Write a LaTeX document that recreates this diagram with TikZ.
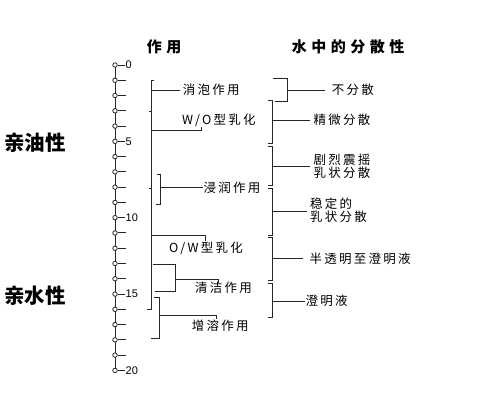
\documentclass[tikz,border=0pt]{standalone}
\usepackage{fontspec}
\newfontfamily\cjk[LetterSpace=18]{Noto Sans CJK SC}
\newfontfamily\cjkh[LetterSpace=30]{Noto Sans CJK SC}
\newfontfamily\cjkbig{Noto Sans CJK SC}
\setsansfont{Liberation Sans}
\begin{document}
\begin{tikzpicture}[x=1pt,y=-1pt]
\useasboundingbox[fill=white] (0,0) rectangle (493,403);
\tikzset{
 ln/.style={draw=black!85, line width=0.95pt},
 circ/.style={circle, draw=black!85, fill=white, inner sep=0pt, minimum size=4.5pt, line width=0.8pt},
 lab/.style={font=\cjk\fontsize{12.5}{11.2}\selectfont, anchor=west, inner ysep=0pt, align=left},
 num/.style={font=\sffamily\fontsize{11}{11}\selectfont, anchor=west, inner sep=0.5pt},
 head/.style={font=\cjkh\bfseries\fontsize{15}{15}\selectfont, inner sep=0pt},
 side/.style={font=\cjkbig\bfseries\fontsize{20.5}{20.5}\selectfont, inner sep=0pt},
}
% headers and side labels
\node[head] (h1) at (164,47) {作用};
\node[head] (h2) at (348,47) {水中的分散性};
\node[side] (s1) at (35,143) {亲油性};
\node[side] (s2) at (35,296) {亲水性};
% scale
\draw[ln] (115,65) -- (115,370.4);
\foreach \i in {0,...,20} { \node[circ] (t\i) at (115,{65+15.27*\i}) {}; }
\foreach \i in {1,2,3,4,6,7,8,9,11,12,13,14,16,17,18,19} { \draw[ln] (t\i.east) -- ++(8,0); }
\foreach \i in {0,5,10,15,20} {
  \node[num] (n\i) at (125,{65+15.27*\i}) {\i};
  \draw[ln] (t\i.east) -- (n\i.west);
}
% left column: main line
\draw[ln] (153.5,80.7) -- (151,80.7) -- (151,309) -- (146.5,309);
\draw[ln] (151,111.7) -- (148.5,111.7);
\draw[ln] (151,188) -- (148.5,188);
% text nodes, left
\node[lab, inner xsep=2.7pt] (xp) at (180,90) {消泡作用};
\node[lab, inner xsep=0pt] (wo) at (182,120) {W/O型乳化};
\node[lab, inner xsep=0.5pt] (jr) at (203,187.3) {浸润作用};
\node[lab, inner xsep=0pt] (ow) at (169,248.3) {O/W型乳化};
\node[lab, inner xsep=0pt] (qj) at (195,287.7) {清洁作用};
\node[lab, inner xsep=0pt] (zr) at (191.7,325.7) {增溶作用};
% connectors, left
\coordinate (m1) at (151,90);
\draw[ln] (m1) -- (xp.west);
\coordinate (m2) at (151,130.7);
\coordinate (w2) at (201,127);
\draw[ln] (m2) -| (w2);
% wetting bracket
\draw[ln] (156.5,174) -- (160.7,174) -- (160.7,204) -- (156,204);
\coordinate (b3) at (160.7,187.3);
\draw[ln] (b3) -- (jr.west);
% O/W
\coordinate (m4) at (151,235);
\coordinate (o4) at (205,241.5);
\draw[ln] (m4) -| (o4);
% cleaning bracket
\draw[ln] (152.7,264.3) -- (175,264.3) -- (175,291) -- (155,291);
\coordinate (b5) at (175,279.3);
\coordinate (q5) at (218.3,283.3);
\draw[ln] (b5) -| (q5);
% solubilizing bracket
\draw[ln] (154.3,297.5) -- (159.3,297.5) -- (159.3,338) -- (151,338);
\coordinate (b6) at (159.3,315);
\coordinate (z6) at (216,319.3);
\draw[ln] (b6) -| (z6);
% right column text
\node[lab, inner xsep=6.7pt] (bfs) at (325,90) {不分散};
\node[lab, inner xsep=3.3pt] (jw) at (310,120) {精微分散};
\node[lab, inner xsep=3.3pt] (jl) at (310,166) {剧烈震摇\\乳状分散};
\node[lab, inner xsep=3.3pt] (wd) at (306.7,210) {稳定的\\乳状分散};
\node[lab, inner xsep=6pt] (bt) at (303.3,258.3) {半透明至澄明液};
\node[lab, inner xsep=0.3pt] (cm) at (305,301) {澄明液};
% right column brackets
\draw[ln] (272.7,78.3) -- (287.7,78.3) -- (287.7,101.7) -- (275,101.7);
\coordinate (r0) at (287.7,90);
\draw[ln] (r0) -- (bfs.west);
\foreach \a/\b in {100/143, 146.5/185, 188.5/235, 237.5/280.5, 283.5/317} {
  \draw[ln] (267.5,\a) -- (272.7,\a) -- (272.7,\b) -- (267.5,\b);
}
\coordinate (r1) at (272.7,120);
\draw[ln] (r1) -- (jw.west);
\coordinate (r2) at (272.7,166);
\draw[ln] (r2) -- (jl.west);
\coordinate (r3) at (272.7,211.7);
\draw[ln] (r3) -- (wd.west |- r3);
\coordinate (r4) at (272.7,258.3);
\draw[ln] (r4) -- (bt.west);
\coordinate (r5) at (272.7,301);
\draw[ln] (r5) -- (cm.west);
\end{tikzpicture}
\end{document}
